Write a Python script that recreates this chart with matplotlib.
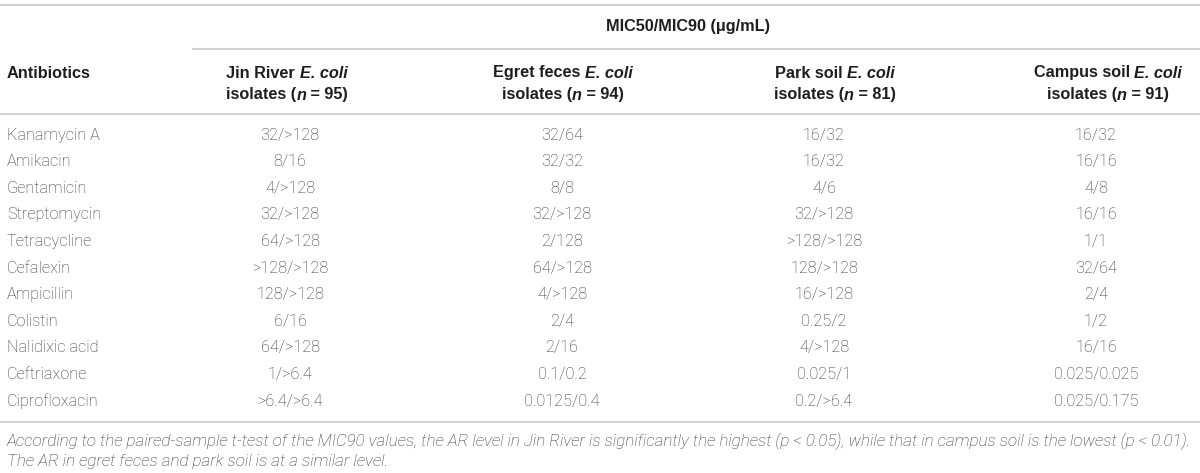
import matplotlib
matplotlib.use("Agg")
import matplotlib.pyplot as plt

antibiotics = ["Kanamycin A", "Amikacin", "Gentamicin", "Streptomycin", "Tetracycline",
               "Cefalexin", "Ampicillin", "Colistin", "Nalidixic acid", "Ceftriaxone",
               "Ciprofloxacin"]
jin_river = ["32/>128", "8/16", "4/>128", "32/>128", "64/>128", ">128/>128", "128/>128",
             "6/16", "64/>128", "1/>6.4", ">6.4/>6.4"]
egret_feces = ["32/64", "32/32", "8/8", "32/>128", "2/128", "64/>128", "4/>128", "2/4",
               "2/16", "0.1/0.2", "0.0125/0.4"]
park_soil = ["16/32", "16/32", "4/6", "32/>128", ">128/>128", "128/>128", "16/>128",
             "0.25/2", "4/>128", "0.025/1", "0.2/>6.4"]
campus_soil = ["16/32", "16/16", "4/8", "16/16", "1/1", "32/64", "2/4", "1/2", "16/16",
               "0.025/0.025", "0.025/0.175"]
group_names = ["Jin River", "Egret feces", "Park soil", "Campus soil"]
group_n = [95, 94, 81, 91]
spanner = "MIC50/MIC90 (\u03bcg/mL)"
row_header = "Antibiotics"
footnote = ["According to the paired-sample t-test of the MIC90 values, the AR level in Jin River is significantly the highest (p < 0.05), while that in campus soil is the lowest (p < 0.01).",
            "The AR in egret feces and park soil is at a similar level."]

W, H = 1200, 473
fig = plt.figure(figsize=(W / 100, H / 100), dpi=100)
ax = fig.add_axes([0, 0, 1, 1])
ax.set_xlim(0, W)
ax.set_ylim(H, 0)
ax.axis("off")

FONT = "Liberation Sans"
BODY_FONT = "Roboto"
TXT = "#1e1e1e"
BODY = "#333333"
LINE = "#d2d2d2"

renderer = fig.canvas.get_renderer()


def width_of(s, fs, **kw):
    t = ax.text(0, 0, s, fontsize=fs, **kw)
    w = t.get_window_extent(renderer).width
    t.remove()
    return w


def fit_size(s, target, **kw):
    return 10.0 * target / width_of(s, 10.0, **kw)


FS_H = fit_size("Egret feces E. coli", 140, family=FONT, weight="bold")
FS_B = fit_size("Kanamycin A", 93, family=BODY_FONT, weight="light")
FS_F = fit_size(footnote[0], 1182, family=BODY_FONT, weight="light", style="italic")


def rich(x, y, segs, fs):
    texts, widths = [], []
    for s, weight, style in segs:
        t = ax.text(0, y, s, fontsize=fs, family=FONT, weight=weight, style=style,
                    color=TXT, va="center", ha="left")
        texts.append(t)
        widths.append(t.get_window_extent(renderer).width)
    x0 = x - sum(widths) / 2
    for t, w in zip(texts, widths):
        t.set_x(x0)
        x0 += w


# horizontal rules
for y0, xa in [(5, 0), (49, 192), (114, 0), (422, 0)]:
    ax.plot([xa, W], [y0, y0], color=LINE, lw=1.5, solid_capstyle="butt")

# spanner
ax.text(606, 27, spanner, fontsize=FS_H, family=FONT, weight="bold", color=TXT,
        ha="left", va="center")

head_x = [287, 563, 835, 1108]
data_x = [290, 562, 824, 1096]
ax.text(7, 73, row_header, fontsize=FS_H, family=FONT, weight="bold", color=TXT,
        ha="left", va="center")
for cx, name, n in zip(head_x, group_names, group_n):
    rich(cx, 73, [(name + " ", "bold", "normal"), ("E. coli", "bold", "italic")], FS_H)
    rich(cx, 95, [("isolates (", "bold", "normal"), ("n", "bold", "italic"),
                  (" = %d)" % n, "bold", "normal")], FS_H)

row_y0, row_dy = 135, 26.6
cols = [jin_river, egret_feces, park_soil, campus_soil]
for i, name in enumerate(antibiotics):
    y = row_y0 + i * row_dy
    ax.text(7, y, name, fontsize=FS_B, family=BODY_FONT, weight="light", color=BODY,
            ha="left", va="center")
    for cx, col in zip(data_x, cols):
        ax.text(cx, y, col[i], fontsize=FS_B, family=BODY_FONT, weight="light",
                color=BODY, ha="center", va="center")

for k, line in enumerate(footnote):
    ax.text(7, 441 + k * 20.5, line, fontsize=FS_F, family=BODY_FONT, weight="light",
            style="italic", color=BODY, ha="left", va="center")

fig.savefig("out.png", dpi=100, facecolor="white")
